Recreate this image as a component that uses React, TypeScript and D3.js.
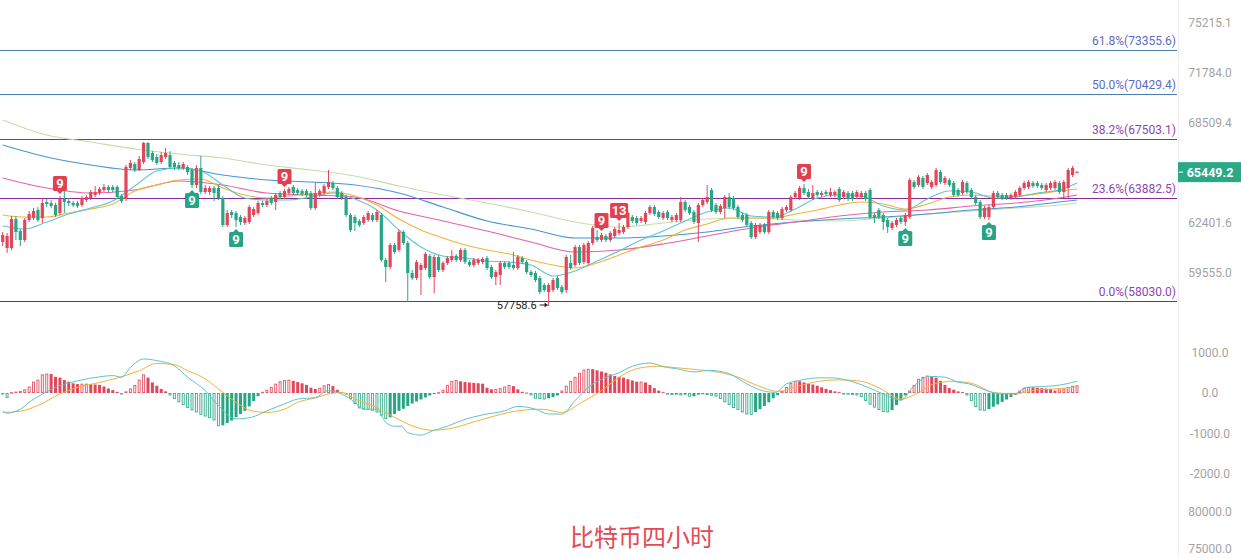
import React from 'react';
import * as d3 from 'd3';

// ---------- DATA ----------
// 4h candles [open, high, low, close]
const ohlc: [number, number, number, number][] = [
  [61316,61891,61087,61718],[60973,61833,60689,61660],[60973,62823,60859,62647],[62647,62823,61430,61891],[61948,62064,61087,61430],
  [61430,62705,61316,62588],[62588,63116,62472,62940],[62705,63294,62588,63116],[63175,63353,62472,62588],[62705,63888,62413,63590],
  [63649,63828,63353,63531],[63590,63768,63294,63412],[63472,63590,62764,62882],[62999,64007,62882,63828],[63828,64668,62999,63649],
  [63709,63888,63412,63590],[63590,63709,63353,63472],[63590,63709,63294,63412],[63472,64007,63353,63888],[63768,64067,63649,63947],
  [63888,64366,63768,64246],[64067,64608,63947,64246],[64187,64547,64067,64426],[64366,64728,64246,64547],[64547,64668,64246,64366],
  [64547,64668,64246,64366],[64547,64668,63828,63947],[64007,64127,63590,63709],[63828,65887,63709,65764],[65702,66194,65579,66010],
  [65948,66071,65457,65579],[65579,66442,65518,66256],[66071,67317,65948,67254],[67254,67317,66256,66380],[66629,66753,66071,66194],
  [66380,66567,65887,66010],[66071,66691,65948,66505],[66380,66941,66256,66629],[66505,66753,65641,65764],[66010,66133,65579,65764],
  [65887,66071,65579,65702],[65702,66071,65579,65948],[65764,65887,65275,65457],[65579,65702,64487,64668],[64668,65887,64487,65702],
  [65702,66442,64127,64246],[64246,64668,64127,64487],[64246,64608,64067,64487],[64487,64608,63709,64187],[64487,64668,63768,63888],
  [63888,64007,62181,62297],[62297,63175,62181,62999],[63058,63175,62705,62882],[62999,63116,62181,62588],[62764,62882,62297,62472],
  [62413,62823,62297,62705],[62472,63472,62355,63353],[62882,63353,62764,63234],[62999,63709,62882,63590],[63590,63709,63353,63472],
  [63472,63828,63353,63709],[63888,64007,63472,63590],[63649,64187,63175,64067],[64187,64306,63828,63947],[63947,64426,63828,64306],
  [64187,64547,64067,64426],[64547,64668,64067,64187],[64366,64487,64067,64187],[64306,64426,64007,64127],[64306,64426,63947,64067],
  [64187,64306,63175,63294],[63294,64789,63175,64187],[64067,64426,63947,64306],[64187,64728,64067,64608],[64547,65579,64426,64849],
  [64789,64910,64366,64487],[64487,64608,63828,63947],[64187,64306,63768,63888],[63947,64067,62764,62882],[62882,62999,61891,62006],
  [62764,62882,61948,62413],[62530,62647,62181,62297],[62413,62882,62297,62764],[62588,63116,62472,62999],[62882,62999,62472,62588],
  [62588,63175,62472,63058],[62882,62999,60181,60293],[60293,60406,59068,59901],[59901,61259,59789,61145],[61145,61259,60633,60746],
  [60859,62006,60746,61891],[61891,62006,61145,61259],[61259,61373,57975,59567],[59567,59733,59178,59289],[59289,60293,59178,60181],
  [59733,60125,58356,60013],[59845,60746,59733,60633],[60519,60633,59234,59345],[59345,60576,58465,60463],[60463,60576,59622,59733],
  [59733,60237,59622,60125],[60125,60519,60013,60406],[60293,60859,60181,60519],[60519,60633,60181,60293],[60293,60973,60181,60859],
  [60859,60973,60069,60181],[60181,60293,59901,60013],[60013,60406,59901,60293],[60125,60406,60013,60293],[60181,60463,60069,60350],
  [60406,60519,59733,59845],[59901,60013,59234,59345],[59345,59733,58903,59622],[59456,60237,58903,60125],[60125,60237,59789,59901],
  [60125,60237,59789,59901],[60013,60746,59733,59845],[59845,60576,59733,60463],[60406,60519,60069,60181],[60181,60293,59511,59622],
  [59622,59733,59345,59456],[59567,59678,59068,59178],[59289,59400,58410,58519],[58903,59013,58519,58628],[58519,59013,57758.6,58903],
  [58628,59289,58519,59178],[59289,59400,58628,58738],[58793,58903,58410,58519],[58628,60576,58465,60463],[60125,60576,59733,59845],
  [60013,61145,59901,61030],[61030,61145,60013,60125],[60181,61259,60069,61145],[60125,61373,60013,61259],[61259,62239,61145,62122],
  [61603,62006,61316,61430],[61430,61833,61316,61718],[61660,61776,61316,61430],[61430,61948,61316,61833],[61660,62181,61545,62064],
  [61833,62413,61718,62006],[61891,62297,61776,62181],[62181,63116,62064,62999],[62764,62882,62413,62530],[62705,62823,62297,62413],
  [62530,62823,62413,62705],[62472,63116,62355,62999],[62999,63472,62882,63353],[63353,63472,62823,62940],[63058,63175,62647,62764],
  [62705,63116,62588,62999],[63058,63175,62588,62705],[62588,62882,62472,62764],[62588,62999,62472,62882],[62588,63947,62472,63649],
  [63649,63768,63058,63175],[63353,63472,62882,62999],[63058,63175,62355,62472],[62413,63590,61316,63472],[63472,63888,63353,63768],
  [63649,64668,63531,63947],[64366,64487,63058,63175],[63472,63590,62940,63058],[63058,63531,62940,63412],[63294,64067,62705,63947],
  [63947,64187,63234,63353],[63888,64007,63175,63294],[63353,63472,62647,62764],[62882,62999,62472,62588],[62882,62999,62181,62297],
  [62413,62530,61488,61603],[61603,62413,61488,62297],[61891,62413,61776,62297],[62297,62413,61776,61891],[61891,63175,61776,63058],
  [63058,63175,62647,62764],[62999,63116,62588,62705],[62705,63353,62588,63234],[63175,63472,63058,63353],[63175,64067,63058,63947],
  [63947,64306,63828,64187],[63888,64608,63768,64487],[64487,64728,64067,64187],[64246,64426,63828,63947],[63888,64668,63768,64187],
  [64246,64366,63947,64067],[64067,64306,63947,64187],[64246,64366,64007,64127],[64067,64487,63947,64246],[64067,64366,63947,64246],
  [64426,64547,63649,63768],[63947,64366,63828,64246],[64187,64306,63709,63828],[64187,64306,63709,63828],[63947,64366,63828,64246],
  [63947,64306,63828,64187],[64187,64306,63709,63828],[64366,64487,62647,62764],[62882,62999,62413,62705],[63175,63294,62647,62764],
  [62882,62999,62006,62472],[62588,62705,61833,62181],[62122,62530,62006,62413],[62297,62705,62181,62588],[62705,62823,62355,62472],
  [62472,62999,62239,62882],[62764,65092,62647,64970],[64849,64970,64426,64547],[64668,65275,64547,65153],[65092,65214,64426,64547],
  [64789,65396,64668,65275],[64547,64970,64426,64849],[64668,65702,64547,65579],[65457,65579,64728,64849],[64789,65214,64668,65092],
  [64970,65092,64547,64668],[64789,64910,63947,64067],[64366,64487,63947,64067],[64187,64970,64067,64849],[64789,64910,64127,64246],
  [64366,64487,63828,63947],[63947,64067,63472,63590],[63649,63768,62647,62764],[62764,63412,62647,63294],[62764,63472,62588,63353],
  [63353,64306,63234,64187],[64187,64306,63828,63947],[64067,64187,63768,63888],[64067,64187,63768,63888],[63888,64187,63768,64067],
  [63947,64366,63828,64246],[64067,64608,63947,64487],[64487,64910,64366,64789],[64547,64970,64426,64849],[64789,64910,64487,64608],
  [64789,64910,64487,64608],[64668,64789,64366,64487],[64366,64789,64246,64668],[64487,64910,64366,64789],[64487,64970,64366,64849],
  [64789,64910,64127,64246],[64246,64970,63888,64849],[64487,65702,63888,65579],[65275,65825,65153,65702],[65420,65520,65400,65449.2],
];

const lastPrice = 65449.2;

// Moving averages (sampled at candle indices)
const maFastIdx = [0,5,10,15,20,25,30,35,40,45,50,55,60,65,70,75,80,85,90,95,100,105,110,115,120,125,130,135,140,145,150,155,160,165,170,175,180,185,190,195,200,205,210,215,220,225,230,235,240,244];
const maCyan = [62239,62064,62472,62940,63294,63709,64608,65518,65702,65518,64668,63888,63768,63768,63947,64187,63828,63175,62006,61030,60519,60406,60237,60181,60013,59400,59678,60237,60802,61430,61948,62530,63058,63294,62823,62764,63234,63888,64067,64007,63412,63175,63828,64306,64246,63888,63947,64187,64366,64789];
const maOrange = [62882,62764,62764,62999,63234,63531,64306,64668,64970,65031,64487,64067,63888,64007,64127,64246,64007,63472,62647,62006,61545,61145,60859,60633,60293,60013,59845,60125,60576,61030,61430,62006,62355,62705,62705,62705,62940,63175,63472,63649,63531,63234,63531,63947,64067,64007,64007,64127,64306,64426];
const maSlowIdx = [0,10,20,30,40,50,60,70,80,90,100,110,120,130,140,150,160,170,180,190,200,210,220,230,240,244];
const maPink = [65092,64487,64187,64366,64910,64668,64187,64067,63947,63116,62530,61948,61316,60746,60859,61202,61660,62122,62472,62823,63058,63175,63412,63590,63888,64067];
const maBlue = [67129,66380,65887,65579,65702,65275,64970,64849,64668,64187,63353,62530,62064,61545,61545,61660,61891,62239,62472,62647,62764,62940,63175,63353,63649,63768];
const maPale = [68714,67759,67317,66878,66567,66318,65887,65579,65214,64608,64067,63590,63058,62472,62181,62413,62647,62705,62588,62530,62705,62940,63116,63294,63472,63590];

// Fibonacci retracement
const fibLabels = ['61.8%', '50.0%', '38.2%', '23.6%', '0.0%'];
const fibPrices = [73355.6, 70429.4, 67503.1, 63882.5, 58030.0];

// Axis ticks
const priceTicks = [75215.1, 71784.0, 68509.4, 62401.6, 59555.0];
const macdTicks = [1000, 0, -1000, -2000];
const lowerTicks = [80000, 75000];

// TD sequential markers
const tdIdx = [13, 43, 53, 64, 136, 140, 182, 205, 224];
const tdText = ['9', '9', '9', '9', '9', '13', '9', '9', '9'];
const tdSide = ['sell', 'buy', 'buy', 'sell', 'sell', 'sell', 'sell', 'buy', 'buy'];

// MACD histogram (one per candle)
const macdHist = [
  -30,-120,20,35,50,90,160,280,330,460,480,470,400,380,320,280,240,220,230,230,
  220,210,200,160,110,70,30,-20,40,110,200,330,460,380,260,180,100,40,-60,-150,
  -230,-300,-370,-430,-480,-540,-580,-620,-680,-820,-800,-740,-680,-600,-520,-440,-330,-200,-80,30,
  80,150,230,290,320,330,300,270,240,200,130,100,130,190,220,170,80,20,-30,-150,
  -270,-380,-410,-420,-440,-480,-560,-640,-600,-520,-440,-390,-320,-260,-210,-160,-110,-60,-20,20,
  80,200,300,320,290,270,260,250,240,230,130,90,100,120,160,200,170,90,30,10,
  -60,-140,-150,-160,-130,-100,-60,60,180,300,400,500,580,600,590,560,530,500,460,420,
  400,380,340,310,280,280,260,200,120,60,20,-20,-50,-40,-60,-40,-90,-80,-40,-30,
  -50,-70,-90,-150,-230,-300,-370,-420,-480,-530,-540,-470,-400,-320,-230,-130,-50,50,150,250,
  300,290,260,230,210,180,140,100,70,40,20,-30,-40,-50,-60,-100,-200,-290,-360,-420,
  -470,-480,-420,-300,-180,-60,60,200,350,400,430,420,380,300,200,120,80,40,20,-60,
  -200,-350,-430,-440,-400,-340,-280,-220,-160,-100,-50,60,130,150,140,130,120,110,100,60,
  90,110,150,180,190,
];

// MACD lines [candle index, value]
const difPts: [number, number][] = [
  [0,-440],[1,-500],[4,-400],[6.5,-190],[9,-25],[13,180],[17,300],[22,400],[25,430],[27,390],[29,630],[32,840],[35,800],[39,670],
  [42,390],[46,60],[49,-310],[53,-640],[56.5,-600],[60,-440],[64,-270],[67,-150],[71,-110],[74,60],[77,-25],[80,-230],[82,-400],
  [85,-400],[87,-730],[89,-820],[90.5,-820],[92,-980],[95,-1040],[97.5,-940],[101,-820],[105,-650],[109,-540],[114,-440],[117,-330],
  [121,-400],[124,-520],[127,-520],[130,-190],[133,140],[137,390],[139.5,475],[143,660],[147,740],[150.5,640],[153,600],[157,520],
  [160.5,560],[165,475],[169,225],[172.5,60],[175.5,15],[178,225],[181,310],[185.5,375],[188,375],[192,310],[196.5,140],[200,-25],
  [204,-175],[207,180],[210.5,410],[214,390],[217,265],[219.5,225],[222.5,100],[226,-10],[230,-10],[232.5,140],[236,160],[239,180],[244,290],
];
const deaPts: [number, number][] = [
  [0,-480],[4,-450],[8,-310],[13,-25],[17,140],[22,260],[26,370],[31,550],[35,730],[39,700],[42,550],[46,350],[49,100],[53,-230],
  [56.5,-440],[60,-480],[64,-400],[67,-230],[71,-120],[74,-25],[77,15],[80,-150],[84,-310],[89,-600],[93,-810],[97.5,-920],[102,-870],
  [106.5,-730],[112,-560],[117,-440],[122.5,-400],[127,-480],[131.5,-230],[136,60],[139.5,350],[144,600],[148.5,660],[153,625],[158,575],
  [162.5,515],[167,390],[171.5,180],[176,40],[181,180],[185.5,290],[190,325],[195,290],[199.5,100],[204,-150],[207.5,-25],[211.5,225],
  [216,290],[220.5,225],[225,15],[230,-25],[234.5,75],[239,100],[244,150],
];

const title = '比特币四小时';

// ---------- STYLE ----------
const RED = '#e2465a';
const GREEN = '#27a685';
const AXIS_TEXT = '#a3a3a3';
const FONT = 'Roboto, "Noto Sans", sans-serif';
const fibLineColor = ['#4a7eae', '#4a7eae', '#8a2a9c', '#8a2a9c', '#7a2a98'];
const fibTextColor = ['#5a6cc0', '#5a6cc0', '#8d47ad', '#8d47ad', '#8d47ad'];

export default function App() {
  const W = 1241, H = 558;
  const x = d3.scaleLinear().domain([0, ohlc.length - 1]).range([2.7, 1077]);
  const yP = d3.scaleLog().domain([58030, 73355.6]).range([301, 50]);
  const yM = d3.scaleLinear().domain([-2000, 1000]).range([474, 352.5]);
  const yL = d3.scaleLinear().domain([75000, 80000]).range([548.3, 511.7]);
  const axisX = 1210;
  const plotRight = 1177;
  const crisp = (v: number) => Math.round(v) + 0.5;

  const maLine = d3.line<[number, number]>().x(d => x(d[0])).y(d => yP(d[1])).curve(d3.curveMonotoneX);
  const macdLine = d3.line<[number, number]>().x(d => x(d[0])).y(d => yM(d[1])).curve(d3.curveMonotoneX);

  const mas: { idx: number[]; vals: number[]; color: string }[] = [
    { idx: maSlowIdx, vals: maPale, color: '#c6dcaa' },
    { idx: maSlowIdx, vals: maBlue, color: '#4496d4' },
    { idx: maSlowIdx, vals: maPink, color: '#e263a8' },
    { idx: maFastIdx, vals: maOrange, color: '#f3b23c' },
    { idx: maFastIdx, vals: maCyan, color: '#5ec6cc' },
  ];

  let minI = 0;
  ohlc.forEach((d, i) => { if (d[2] < ohlc[minI][2]) minI = i; });
  const minLow = ohlc[minI][2];
  const minX = x(minI);
  const minY = yP(minLow) - 1;

  const zeroY = yM(0);

  return (
    <svg width={W} height={H} style={{ position: 'absolute', left: 0, top: 0, background: '#fff' }} fontFamily={FONT}>
      <rect x={0} y={0} width={W} height={H} fill="#fff" />
      <line x1={plotRight + 1.5} x2={plotRight + 1.5} y1={0} y2={H} stroke="#efefef" />

      {/* Fibonacci lines */}
      {fibPrices.map((p, i) => (
        <g key={'fib' + i}>
          <line x1={0} x2={plotRight} y1={crisp(yP(p))} y2={crisp(yP(p))} stroke={fibLineColor[i]} strokeWidth={1} />
          <text x={plotRight - 1} y={yP(p) - 5} textAnchor="end" fontSize={12} fill={fibTextColor[i]}>
            {`${fibLabels[i]}(${p.toFixed(1)})`}
          </text>
        </g>
      ))}

      {/* Moving averages */}
      {mas.map((m, k) => (
        <path key={'ma' + k} d={maLine(m.idx.map((ix, j) => [ix, m.vals[j]] as [number, number])) || ''}
          fill="none" stroke={m.color} strokeWidth={1.1} />
      ))}

      {/* Candles */}
      {ohlc.map(([o, h, l, c], i) => {
        const col = c >= o ? RED : GREEN;
        const cx = x(i);
        const yt = yP(Math.max(o, c));
        const yb = yP(Math.min(o, c));
        return (
          <g key={'c' + i}>
            <line x1={cx} x2={cx} y1={yP(h)} y2={yP(l)} stroke={col} strokeWidth={1} />
            <rect x={cx - 1.6} width={3.2} y={yt} height={Math.max(1, yb - yt)} fill={col} />
          </g>
        );
      })}

      {/* TD markers */}
      {tdIdx.map((ci, k) => {
        const cx = x(ci);
        const d = ohlc[ci];
        const label = tdText[k];
        const w = label.length > 1 ? 18 : 14;
        const hgt = 15;
        if (tdSide[k] === 'sell') {
          const bottom = yP(d[1]) - 5;
          return (
            <g key={'td' + k}>
              <rect x={cx - w / 2} y={bottom - hgt} width={w} height={hgt} rx={1.5} fill="#e2404f" />
              <path d={`M${cx - 3},${bottom} L${cx + 3},${bottom} L${cx},${bottom + 3} Z`} fill="#e2404f" />
              <text x={cx} y={bottom - hgt / 2 + 4.5} textAnchor="middle" fontSize={13} fontWeight={700} fill="#fff">{label}</text>
            </g>
          );
        }
        const top = yP(d[2]) + 5;
        return (
          <g key={'td' + k}>
            <rect x={cx - w / 2} y={top} width={w} height={hgt} rx={1.5} fill="#25a585" />
            <path d={`M${cx - 3},${top} L${cx + 3},${top} L${cx},${top - 3} Z`} fill="#25a585" />
            <text x={cx} y={top + hgt / 2 + 4.5} textAnchor="middle" fontSize={13} fontWeight={700} fill="#fff">{label}</text>
          </g>
        );
      })}

      {/* Low annotation */}
      <text x={minX - 12} y={minY} dy="0.35em" textAnchor="end" fontSize={11} fill="#222">{minLow.toFixed(1)}</text>
      <line x1={minX - 9} x2={minX - 1} y1={minY} y2={minY} stroke="#222" strokeWidth={1} />
      <path d={`M${minX - 1},${minY} L${minX - 4},${minY - 2.5} L${minX - 4},${minY + 2.5} Z`} fill="#222" />

      {/* Price axis */}
      {priceTicks.map((t, i) => (
        <text key={'pt' + i} x={axisX} y={yP(t)} dy="0.35em" textAnchor="middle" fontSize={12} fill={AXIS_TEXT}>{t.toFixed(1)}</text>
      ))}
      <rect x={plotRight + 1} y={yP(lastPrice) - 10} width={W - plotRight - 1} height={20} fill="#2aa987" />
      <line x1={plotRight + 2} x2={plotRight + 6} y1={yP(lastPrice)} y2={yP(lastPrice)} stroke="#fff" strokeWidth={1} />
      <text x={axisX} y={yP(lastPrice)} dy="0.36em" textAnchor="middle" fontSize={12.5} fontWeight={700} fill="#fff">{lastPrice.toFixed(1)}</text>

      {/* MACD histogram */}
      {macdHist.map((v, i) => {
        const prev = i > 0 ? macdHist[i - 1] : 0;
        const growing = Math.sign(v) !== Math.sign(prev) || Math.abs(v) >= Math.abs(prev);
        const col = v >= 0 ? RED : GREEN;
        const cx = x(i);
        const y1 = Math.min(zeroY, yM(v));
        const hh = Math.max(1, Math.abs(yM(v) - zeroY));
        return growing ? (
          <rect key={'h' + i} x={cx - 1} y={y1 + 0.5} width={2} height={Math.max(0.5, hh - 1)} fill="#fff" stroke={col} strokeWidth={1} opacity={0.85} />
        ) : (
          <rect key={'h' + i} x={cx - 1.5} y={y1} width={3} height={hh} fill={col} />
        );
      })}
      <path d={macdLine(deaPts) || ''} fill="none" stroke="#f2b23a" strokeWidth={1} />
      <path d={macdLine(difPts) || ''} fill="none" stroke="#5cc6cc" strokeWidth={1} />

      {macdTicks.map((t, i) => (
        <text key={'mt' + i} x={axisX} y={yM(t)} dy="0.35em" textAnchor="middle" fontSize={12} fill={AXIS_TEXT}>{t.toFixed(1)}</text>
      ))}
      {lowerTicks.map((t, i) => (
        <text key={'lt' + i} x={axisX} y={yL(t)} dy="0.35em" textAnchor="middle" fontSize={12} fill={AXIS_TEXT}>{t.toFixed(1)}</text>
      ))}

      {/* Title */}
      <text x={642} y={546} textAnchor="middle" fontSize={24} fill="#e34a55" fontFamily='"Noto Sans CJK SC", sans-serif'>{title}</text>
    </svg>
  );
}
